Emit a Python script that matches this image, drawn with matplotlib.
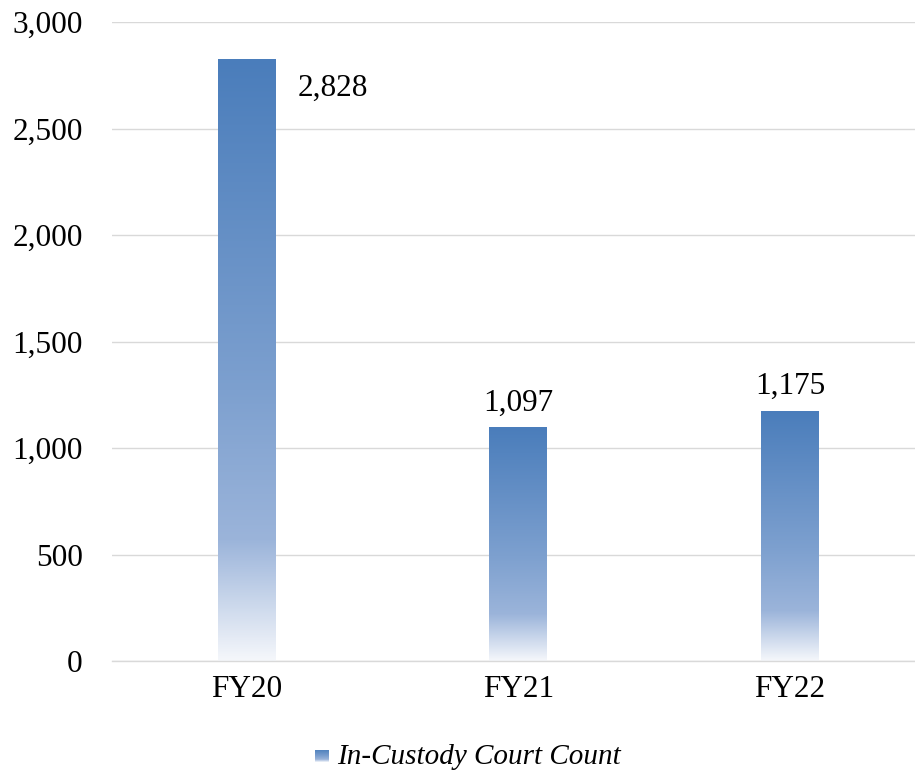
import matplotlib
matplotlib.use("Agg")
import matplotlib.pyplot as plt
import numpy as np
from matplotlib.colors import LinearSegmentedColormap
from matplotlib.ticker import FuncFormatter

categories = ["FY20", "FY21", "FY22"]
values = [2828, 1097, 1175]
series_name = "In-Custody Court Count"
yticks = [0, 500, 1000, 1500, 2000, 2500, 3000]

plt.rcParams['font.family'] = ['Liberation Serif', 'DejaVu Serif']

cmap = LinearSegmentedColormap.from_list(
    "grad", [(0.0, "#f5f7fb"), (0.2, "#9bb4da"), (0.45, "#7da0cf"), (1.0, "#4a7dbb")])

FS = 22.5
fig = plt.figure(figsize=(9.15, 7.75), dpi=100)
ax = fig.add_axes([112/915, 1-661/775, 1-112/915, (661-22)/775])

x = np.arange(len(categories))
width = 0.213
bars = ax.bar(x, values, width=width, color="none", edgecolor="none", zorder=2)
grad = np.linspace(0, 1, 256).reshape(-1, 1)
for b in bars:
    x0, y0 = b.get_x(), b.get_y()
    w, h = b.get_width(), b.get_height()
    im = ax.imshow(grad, cmap=cmap, origin="lower", aspect="auto",
                   extent=(x0, x0 + w, y0, y0 + h), zorder=2)
    im.set_clip_path(b)

ax.set_xlim(-0.496, 2.46)
ax.set_ylim(0, 3000)
ax.set_yticks(yticks)
ax.yaxis.set_major_formatter(FuncFormatter(lambda v, p: f"{int(v):,}"))
ax.set_xticks(x)
ax.set_xticklabels(categories)
ax.tick_params(axis="both", length=0, labelsize=FS, colors="black")
ax.tick_params(axis="y", pad=21)
ax.tick_params(axis="x", pad=10)
ax.grid(axis="y", color="#d9d9d9", linewidth=1, zorder=0)
ax.set_axisbelow(True)
for s in ["top", "right", "left"]:
    ax.spines[s].set_visible(False)
ax.spines["bottom"].set_color("#d9d9d9")
ax.spines["bottom"].set_linewidth(1)

# data labels
for i, v in enumerate(values):
    if v > 2700:
        ax.text(i + width/2 + 0.08, v - 140, f"{v:,}", fontsize=FS, ha="left", va="center")
    else:
        ax.text(i, v + 45, f"{v:,}", fontsize=FS, ha="center", va="bottom")

# legend
sw = fig.add_axes([315/915, 1-762/775, 14/915, 12/775])
sw.imshow(grad, cmap=cmap, origin="lower", aspect="auto")
sw.axis("off")
fig.text(337/915, 1-757/775, series_name, fontsize=21, style="italic", ha="left", va="center")

fig.savefig("out.png", dpi=100)
